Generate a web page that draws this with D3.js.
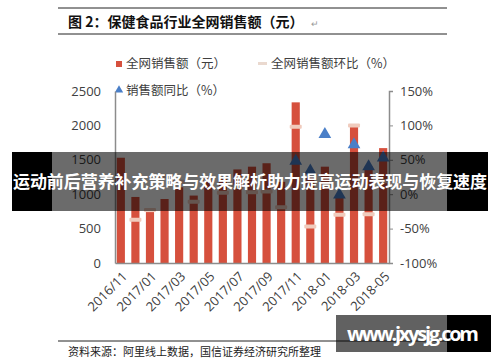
<!DOCTYPE html>
<html>
<head>
    <meta charset="utf-8">
    <title>保健食品行业全网销售额</title>
    <script src="https://d3js.org/d3.v7.min.js"></script>
    <style>
        html, body {
            margin: 0;
            background: white;
            overflow: hidden;
        }
        text {
            font-family: "Noto Sans CJK SC", "Noto Sans", sans-serif;
        }
    </style>
</head>
<body>
    <svg id="svg"></svg>
    <script>
        // data
        const months = ["2016/11", "2016/12", "2017/01", "2017/02", "2017/03", "2017/04", "2017/05",
            "2017/06", "2017/07", "2017/08", "2017/09", "2017/10", "2017/11", "2017/12",
            "2018-01", "2018-02", "2018-03", "2018-04", "2018-05"];
        const sales = [1530, 960, 740, 930, 1100, 980, 1200, 1220, 1360, 1400, 1450, 1180, 2335, 1240, 1400, 980, 1980, 1400, 1670];
        const mom = [null, -37, -23, 26, 18, -11, 22, 2, 11, 3, 4, -19, 98, -47, 13, -30, 100, -29, 19];
        const yoy = [null, null, null, null, null, null, null, null, null, null, null, null, 48, 34, 87, -1, 72, 40, 53];
        const leftTicks = [0, 500, 1000, 1500, 2000, 2500];
        const rightTicks = [-100, -50, 0, 50, 100, 150];
        const tickMonths = months.filter((d, i) => i % 2 === 0);

        const width = 500, height = 362;
        const plot = {left: 115, right: 389, top: 91, bottom: 263};

        const svg = d3.select("#svg")
            .attr("width", width)
            .attr("height", height);

        const x = d3.scaleBand()
            .domain(months)
            .range([plot.left, plot.right])
            .paddingInner(0.44)
            .paddingOuter(0.12);

        const yL = d3.scaleLinear().domain([0, 2500]).range([plot.bottom, plot.top]);
        const yR = d3.scaleLinear().domain([-100, 150]).range([plot.bottom, plot.top]);

        // title block
        svg.append("line").attr("x1", 58).attr("x2", 447).attr("y1", 8).attr("y2", 8)
            .attr("stroke", "#222").attr("stroke-width", 1);
        svg.append("line").attr("x1", 58).attr("x2", 447).attr("y1", 34).attr("y2", 34)
            .attr("stroke", "#222").attr("stroke-width", 1);
        svg.append("text")
            .attr("x", 68).attr("y", 27)
            .style("font-size", "14px").style("font-weight", "bold")
            .attr("fill", "#111")
            .text("图 2：保健食品行业全网销售额（元）");
        svg.append("text")
            .attr("x", 311).attr("y", 27)
            .style("font-size", "9px").attr("fill", "#999")
            .text("↵");

        // legend
        svg.append("rect").attr("x", 116).attr("y", 61).attr("width", 6).attr("height", 6).attr("fill", "#d6503d");
        svg.append("text").attr("x", 126).attr("y", 68).style("font-size", "12.5px").attr("fill", "#404040")
            .text("全网销售额（元）");
        svg.append("rect").attr("x", 258).attr("y", 62).attr("width", 9).attr("height", 3).attr("fill", "#ead9cf");
        svg.append("text").attr("x", 271).attr("y", 68).style("font-size", "12.5px").attr("fill", "#404040")
            .text("全网销售额环比（%）");
        svg.append("path")
            .attr("d", d3.symbol(d3.symbolTriangle, 30)())
            .attr("transform", "translate(119,90)")
            .attr("fill", "#4a7fc8");
        svg.append("text").attr("x", 126).attr("y", 95).style("font-size", "12.5px").attr("fill", "#404040")
            .text("销售额同比（%）");

        // bars
        svg.append("g")
            .selectAll("rect")
            .data(sales)
            .join("rect")
            .attr("x", (d, i) => x(months[i]))
            .attr("width", x.bandwidth())
            .attr("y", d => yL(d))
            .attr("height", d => yL(0) - yL(d))
            .attr("fill", "#d6503d");

        // axes
        const leftAxis = svg.append("g")
            .attr("transform", `translate(${plot.left},0)`)
            .call(d3.axisLeft(yL).tickValues(leftTicks).tickSize(0).tickPadding(14).tickFormat(d3.format("d")));
        leftAxis.select(".domain").attr("stroke", "#8c8c8c").attr("stroke-width", 1.5);
        leftAxis.selectAll("text").style("font-size", "13px").attr("fill", "#404040")
            .style("font-family", "'Open Sans', sans-serif");

        const rightAxis = svg.append("g")
            .attr("transform", `translate(${plot.right},0)`)
            .call(d3.axisRight(yR).tickValues(rightTicks).tickSize(4).tickPadding(7).tickFormat(d => d + "%"));
        rightAxis.select(".domain").attr("stroke", "#8c8c8c").attr("stroke-width", 1.5);
        rightAxis.selectAll("line").attr("stroke", "#8c8c8c");
        rightAxis.selectAll("text").style("font-size", "13px").attr("fill", "#404040")
            .style("font-family", "'Open Sans', sans-serif");

        const bottomAxis = svg.append("g")
            .attr("transform", `translate(0,${plot.bottom})`)
            .call(d3.axisBottom(x).tickValues(tickMonths).tickSize(0).tickPadding(0));
        bottomAxis.select(".domain").attr("stroke", "#8c8c8c").attr("stroke-width", 1.5);
        bottomAxis.selectAll("text")
            .style("font-size", "13px")
            .style("font-family", "'Open Sans', sans-serif")
            .attr("fill", "#404040")
            .attr("text-anchor", "end")
            .attr("dy", "0.35em")
            .attr("transform", "translate(4,11) rotate(-45)");

        // month-on-month dashes
        svg.append("g")
            .selectAll("rect")
            .data(mom.map((v, i) => [months[i], v]).filter(d => d[1] !== null))
            .join("rect")
            .attr("x", d => x(d[0]) + x.bandwidth() / 2 - 6)
            .attr("y", d => yR(d[1]) - 2)
            .attr("width", 12)
            .attr("height", 4)
            .attr("rx", 1)
            .attr("fill", "#f0cbbd");

        // year-on-year triangles
        svg.append("g")
            .selectAll("path")
            .data(yoy.map((v, i) => [months[i], v]).filter(d => d[1] !== null))
            .join("path")
            .attr("d", d3.symbol(d3.symbolTriangle, 70)())
            .attr("transform", d => `translate(${x(d[0]) + x.bandwidth() / 2},${yR(d[1])})`)
            .attr("fill", "#4a7fc8");

        // source
        svg.append("line").attr("x1", 58).attr("x2", 447).attr("y1", 341).attr("y2", 341)
            .attr("stroke", "#222").attr("stroke-width", 1);
        svg.append("text")
            .attr("x", 68).attr("y", 356)
            .style("font-size", "11px")
            .attr("fill", "#222")
            .text("资料来源：阿里线上数据，国信证券经济研究所整理");

        // headline banner overlay
        svg.append("rect").attr("x", 12).attr("y", 152).attr("width", 40).attr("height", 59).attr("fill", "#000");
        svg.append("rect").attr("x", 447).attr("y", 152).attr("width", 41).attr("height", 59).attr("fill", "#000");
        svg.append("rect").attr("x", 52).attr("y", 152).attr("width", 395).attr("height", 59)
            .attr("fill", "rgba(0,0,0,0.58)");
        svg.append("text")
            .attr("x", 250).attr("y", 188)
            .attr("text-anchor", "middle")
            .style("font-size", "17px").style("font-weight", "bold")
            .attr("fill", "#fff")
            .attr("textLength", 474)
            .text("运动前后营养补充策略与效果解析助力提高运动表现与恢复速度");

        // watermark
        svg.append("rect").attr("x", 336).attr("y", 315).attr("width", 111).attr("height", 37)
            .attr("fill", "rgba(0,0,0,0.62)");
        svg.append("rect").attr("x", 447).attr("y", 315).attr("width", 44).attr("height", 37).attr("fill", "#000");
        svg.append("text")
            .attr("x", 413).attr("y", 341)
            .attr("text-anchor", "middle")
            .style("font-size", "20px").style("font-weight", "bold")
            .style("font-family", "'Open Sans', sans-serif")
            .attr("fill", "#fff")
            .attr("textLength", 132)
            .text("www.jxysjg.com");
    </script>
</body>
</html>
